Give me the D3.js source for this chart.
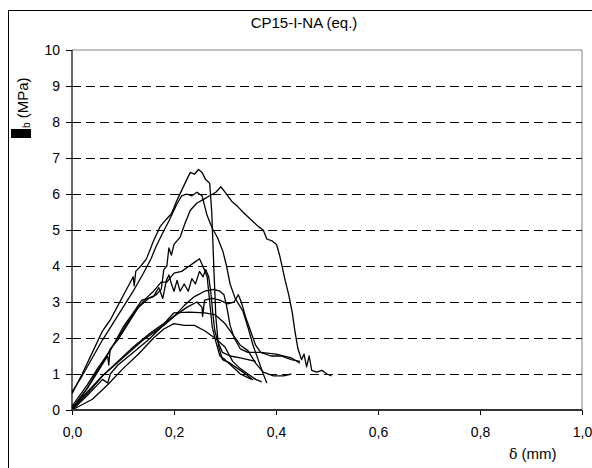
<!DOCTYPE html>
<html>
<head>
<meta charset="utf-8">
<script src="https://cdn.jsdelivr.net/npm/d3@7"></script>
<style>
  body { margin: 0; background: #fff; }
  text { font-family: "Liberation Sans", Arial, sans-serif; }
</style>
</head>
<body>
<script>
// specimen curves, [delta (mm), tau_b (MPa)]
const s1 = [[0,0.45],[0.02,1.0],[0.04,1.6],[0.06,2.2],[0.075,2.5],[0.09,2.9],[0.105,3.3],[0.12,3.7],[0.122,3.45],[0.125,3.85],[0.135,4.0],[0.146,4.2],[0.16,4.7],[0.173,5.1],[0.185,5.3],[0.195,5.45],[0.205,5.8],[0.215,6.1],[0.225,6.4],[0.232,6.6],[0.24,6.55],[0.248,6.68],[0.255,6.6],[0.262,6.4],[0.27,6.3],[0.274,5.5],[0.278,4.0],[0.282,2.6],[0.287,1.8],[0.295,1.4],[0.31,1.3],[0.33,1.1],[0.345,0.95],[0.355,0.83]];
const s2 = [[0,0.5],[0.02,0.95],[0.04,1.45],[0.06,1.95],[0.08,2.4],[0.1,2.85],[0.12,3.3],[0.14,3.8],[0.155,4.2],[0.165,4.55],[0.179,4.95],[0.19,5.25],[0.205,5.7],[0.215,5.95],[0.225,6.0],[0.235,5.95],[0.245,6.05],[0.255,5.95],[0.265,5.4],[0.275,5.05],[0.285,4.8],[0.296,4.4],[0.303,4.0],[0.31,3.5],[0.32,3.1],[0.335,2.75],[0.345,2.3],[0.355,1.8],[0.365,1.4],[0.375,1.0],[0.382,0.75]];
const s3 = [[0,0.05],[0.03,0.6],[0.05,1.1],[0.07,1.55],[0.09,2.0],[0.11,2.45],[0.13,2.85],[0.15,3.1],[0.165,3.2],[0.175,3.35],[0.18,3.9],[0.186,4.0],[0.19,4.5],[0.195,4.3],[0.2,4.6],[0.212,4.8],[0.222,5.2],[0.232,5.55],[0.245,5.75],[0.258,5.85],[0.27,5.95],[0.282,6.05],[0.292,6.2],[0.3,6.05],[0.313,5.8],[0.325,5.65],[0.335,5.5],[0.35,5.3],[0.365,5.1],[0.375,5.0],[0.382,4.75],[0.392,4.7],[0.401,4.6],[0.407,4.3],[0.411,4.05],[0.418,3.6],[0.425,3.2],[0.432,2.7],[0.437,2.2],[0.443,1.7],[0.45,1.4],[0.455,1.55],[0.46,1.2],[0.465,1.5],[0.47,1.1],[0.48,1.05],[0.49,1.1],[0.5,1.0],[0.509,0.95]];
const s4 = [[0,0],[0.03,0.6],[0.05,1.05],[0.07,1.5],[0.072,1.25],[0.075,1.7],[0.09,1.95],[0.11,2.4],[0.13,2.85],[0.145,3.1],[0.16,3.3],[0.175,3.55],[0.186,3.55],[0.2,3.8],[0.215,3.85],[0.23,4.0],[0.24,4.1],[0.25,4.2],[0.258,3.95],[0.265,3.7],[0.27,3.0],[0.275,2.3],[0.282,1.9],[0.29,1.5],[0.3,1.4],[0.315,1.2],[0.33,1.0],[0.345,0.9],[0.352,0.85]];
const s5 = [[0,0.1],[0.03,0.7],[0.05,1.15],[0.07,1.55],[0.085,1.9],[0.1,2.3],[0.12,2.7],[0.137,3.05],[0.15,3.1],[0.16,3.15],[0.17,3.4],[0.178,3.1],[0.185,3.6],[0.19,3.75],[0.195,3.5],[0.2,3.3],[0.206,3.6],[0.212,3.3],[0.22,3.5],[0.228,3.3],[0.235,3.65],[0.242,3.5],[0.25,3.85],[0.257,3.7],[0.262,3.9],[0.268,3.7],[0.272,3.3],[0.276,2.7],[0.28,2.2],[0.286,1.9],[0.295,1.6],[0.31,1.5],[0.33,1.45],[0.345,1.4],[0.36,1.35]];
const s6 = [[0,0],[0.03,0.45],[0.06,0.95],[0.08,1.2],[0.1,1.45],[0.12,1.7],[0.14,1.95],[0.16,2.15],[0.18,2.35],[0.2,2.6],[0.22,2.9],[0.24,3.15],[0.26,3.3],[0.277,3.35],[0.29,3.3],[0.298,3.2],[0.303,2.9],[0.31,2.35],[0.318,2.0],[0.33,1.7],[0.345,1.6],[0.37,1.6],[0.4,1.55],[0.43,1.45],[0.447,1.3]];
const s7 = [[0,0.05],[0.03,0.5],[0.06,0.95],[0.09,1.35],[0.12,1.75],[0.15,2.1],[0.18,2.4],[0.2,2.6],[0.225,2.85],[0.245,3.0],[0.255,2.85],[0.256,2.6],[0.26,3.05],[0.275,3.1],[0.29,3.05],[0.305,2.95],[0.318,3.0],[0.326,3.2],[0.332,3.0],[0.34,2.6],[0.35,2.2],[0.36,1.8],[0.37,1.6],[0.39,1.5],[0.41,1.5],[0.43,1.4],[0.447,1.35]];
const s8 = [[0,0],[0.03,0.4],[0.06,0.85],[0.07,0.75],[0.075,1.0],[0.09,1.25],[0.12,1.6],[0.15,1.95],[0.175,2.3],[0.19,2.55],[0.2,2.7],[0.23,2.72],[0.26,2.7],[0.28,2.65],[0.3,2.4],[0.315,2.1],[0.33,1.8],[0.345,1.65],[0.36,1.3],[0.375,1.05],[0.395,0.95],[0.415,0.95],[0.43,1.0]];
const s9 = [[0,0],[0.04,0.3],[0.07,0.7],[0.1,1.15],[0.13,1.55],[0.16,2.0],[0.18,2.25],[0.2,2.4],[0.22,2.35],[0.24,2.35],[0.26,2.2],[0.28,2.0],[0.3,1.75],[0.315,1.35],[0.33,1.15],[0.345,1.0],[0.36,0.85],[0.372,0.78]];
const curves = [s1, s2, s3, s4, s5, s6, s7, s8, s9];

const xTicks = [0, 0.2, 0.4, 0.6, 0.8, 1.0];
const yTicks = [0, 1, 2, 3, 4, 5, 6, 7, 8, 9, 10];
const gridValues = [1, 2, 3, 4, 5, 6, 7, 8, 9];

const W = 592, H = 468;
const margin = {top: 50, right: 10, bottom: 58, left: 72};
const width = W - margin.left - margin.right,
      height = H - margin.top - margin.bottom;

const svg = d3.select("body").append("svg")
    .attr("width", W)
    .attr("height", H);

// outer chart frame (runs off the right and bottom edges)
svg.append("rect")
    .attr("x", 8.5).attr("y", 10.5)
    .attr("width", 700).attr("height", 600)
    .attr("fill", "none").attr("stroke", "#000");

const g = svg.append("g")
    .attr("transform", `translate(${margin.left}, ${margin.top})`);

const x = d3.scaleLinear().domain([0, 1]).range([0, width]);
const y = d3.scaleLinear().domain([0, 10]).range([height, 0]);

// plot area border (top + right, grey)
g.append("path")
    .attr("d", `M0,${y(10)}H${x(1)}V${y(0)}`)
    .attr("fill", "none").attr("stroke", "#808080");

// dashed gridlines
g.append("g")
    .selectAll("line")
    .data(gridValues)
    .join("line")
      .attr("x1", 0).attr("x2", width)
      .attr("y1", d => Math.round(y(d)) + 0.5)
      .attr("y2", d => Math.round(y(d)) + 0.5)
      .attr("stroke", "#000")
      .attr("stroke-dasharray", "9,5");

// curves
const line = d3.line().x(d => x(d[0])).y(d => y(d[1]));
g.append("g")
    .selectAll("path")
    .data(curves)
    .join("path")
      .attr("d", line)
      .attr("fill", "none")
      .attr("stroke", "#000")
      .attr("stroke-width", 1.3)
      .attr("stroke-linejoin", "round");

// axes
const yAxis = d3.axisLeft(y).tickValues(yTicks).tickSize(6).tickPadding(6)
    .tickFormat(d3.format("d"));
const xAxis = d3.axisBottom(x).tickValues(xTicks).tickSize(5).tickPadding(12)
    .tickFormat(d => d.toFixed(1).replace(".", ","));

const gy = g.append("g").call(yAxis);
const gx = g.append("g").attr("transform", `translate(0, ${height})`).call(xAxis);

[gx, gy].forEach(a => {
    a.select(".domain").remove();
    a.selectAll("text").attr("font-size", 14).attr("fill", "#000")
        .attr("font-family", "Liberation Sans, Arial, sans-serif");
    a.selectAll("line").attr("stroke", "#000");
});

g.append("line")
    .attr("x1", 0).attr("x2", 0).attr("y1", 0).attr("y2", height)
    .attr("stroke", "#000").attr("stroke-width", 1.2);
g.append("line")
    .attr("x1", 0).attr("x2", width).attr("y1", height).attr("y2", height)
    .attr("stroke", "#333").attr("stroke-width", 2);

// title
svg.append("text")
    .attr("x", 304).attr("y", 28)
    .attr("text-anchor", "middle")
    .attr("font-size", 15)
    .text("CP15-I-NA (eq.)");

// x axis label
const xl = svg.append("text")
    .attr("x", 509).attr("y", 459)
    .attr("font-size", 15);
xl.append("tspan").attr("font-family", "DejaVu Serif, serif").attr("font-size", 14).text("δ");
xl.append("tspan").text(" (mm)");

// y axis label: missing tau glyph shows as a black block
svg.append("rect")
    .attr("x", 11).attr("y", 129)
    .attr("width", 20).attr("height", 9)
    .attr("fill", "#000");
const yl = svg.append("text")
    .attr("transform", "translate(28, 128) rotate(-90)")
    .attr("font-size", 15);
yl.append("tspan").attr("font-size", 10).attr("dy", 2).text("b");
yl.append("tspan").attr("dy", -2).text(" (MPa)");
</script>
</body>
</html>
